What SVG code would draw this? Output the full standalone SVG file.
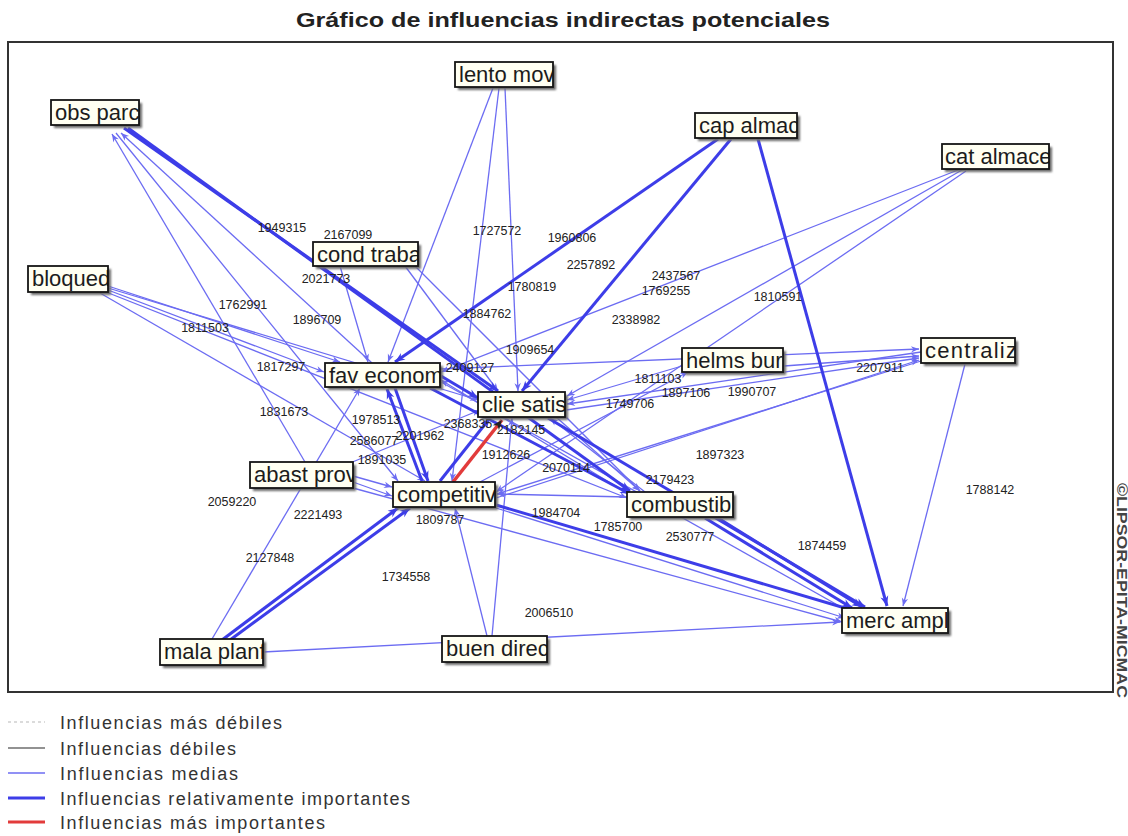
<svg xmlns="http://www.w3.org/2000/svg" width="1128" height="836" viewBox="0 0 1128 836">
<defs>
  <style>
    .title{font:bold 21px "Liberation Sans",Arial,sans-serif;fill:#222}
    .frame{fill:#fff;stroke:#333;stroke-width:2}
    .m{stroke:#6c6cf2;stroke-width:1.3;fill:none;marker-end:url(#am)}
    .s{stroke:#3d3de8;stroke-width:3;fill:none;marker-end:url(#as)}
    .r{stroke:#e23b3b;stroke-width:3.5;fill:none;marker-end:url(#ar)}
    .w{font:12.5px "Liberation Sans",Arial,sans-serif;fill:#222;text-anchor:middle}
    .sh{fill:#6a6a6a;filter:url(#blur)}
    .bx{fill:#fffff2}
    .bd{fill:none;stroke:#151515;stroke-width:1.8}
    .nl{font:22px "Liberation Sans",Arial,sans-serif;fill:#1c1c1c}
    .lg{font:18px "Liberation Sans",Arial,sans-serif;fill:#333}
    .cp{font:bold 14px "Liberation Sans",Arial,sans-serif;fill:#444}
  </style>
  <filter id="blur" x="-10%" y="-20%" width="120%" height="140%"><feGaussianBlur stdDeviation="1.2"/></filter>
  <marker id="am" viewBox="0 0 10 10" refX="10" refY="5" markerWidth="11" markerHeight="8" markerUnits="userSpaceOnUse" orient="auto"><path d="M0,1 L10,5 L0,9 L3,5 Z" fill="#6c6cf2"/></marker>
  <marker id="as" viewBox="0 0 10 10" refX="10" refY="5" markerWidth="13" markerHeight="10" markerUnits="userSpaceOnUse" orient="auto"><path d="M0,1 L10,5 L0,9 L3,5 Z" fill="#3d3de8"/></marker>
  <marker id="ar" viewBox="0 0 10 10" refX="10" refY="5" markerWidth="13" markerHeight="10" markerUnits="userSpaceOnUse" orient="auto"><path d="M0,1 L10,5 L0,9 L3,5 Z" fill="#222"/></marker>
</defs>

<rect width="1128" height="836" fill="#fff"/>
<text class="title" x="296" y="27" textLength="534" lengthAdjust="spacingAndGlyphs">Gráfico de influencias indirectas potenciales</text>
<rect class="frame" x="8" y="42" width="1105" height="650"/>
<text class="cp" transform="translate(1117,483) rotate(90)" textLength="215" lengthAdjust="spacingAndGlyphs">©LIPSOR-EPITA-MICMAC</text>

<!-- connectors -->
<g id="connectors">
  <!-- medium influences -->
  <line class="m" x1="305" y1="462" x2="112" y2="134"/>
  <line class="m" x1="116" y1="133" x2="398" y2="481"/>
  <line class="m" x1="372" y1="363" x2="121" y2="133"/>
  <line class="m" x1="493" y1="88" x2="388" y2="362"/>
  <line class="m" x1="499" y1="88" x2="452" y2="481"/>
  <line class="m" x1="505" y1="88" x2="518" y2="391"/>
  <line class="m" x1="962" y1="170" x2="567" y2="396"/>
  <line class="m" x1="958" y1="170" x2="441" y2="372"/>
  <line class="m" x1="966" y1="171" x2="496" y2="492"/>
  <line class="m" x1="965" y1="364" x2="903" y2="606"/>
  <line class="m" x1="441" y1="369" x2="919" y2="349"/>
  <line class="m" x1="784" y1="366" x2="919" y2="356"/>
  <line class="m" x1="496" y1="498" x2="919" y2="360"/>
  <line class="m" x1="566" y1="410" x2="919" y2="358"/>
  <line class="m" x1="682" y1="366" x2="567" y2="400"/>
  <line class="m" x1="921" y1="352" x2="567" y2="404"/>
  <line class="m" x1="921" y1="361" x2="497" y2="494"/>
  <line class="m" x1="108" y1="286" x2="340" y2="362"/>
  <line class="m" x1="108" y1="290" x2="324" y2="372"/>
  <line class="m" x1="108" y1="288" x2="478" y2="400"/>
  <line class="m" x1="100" y1="293" x2="425" y2="481"/>
  <line class="m" x1="106" y1="292" x2="627" y2="498"/>
  <line class="m" x1="340" y1="266" x2="368" y2="362"/>
  <line class="m" x1="405" y1="266" x2="498" y2="391"/>
  <line class="m" x1="415" y1="266" x2="640" y2="491"/>
  <line class="m" x1="353" y1="476" x2="392" y2="487"/>
  <line class="m" x1="353" y1="482" x2="392" y2="496"/>
  <line class="m" x1="350" y1="463" x2="480" y2="410"/>
  <line class="m" x1="212" y1="639" x2="360" y2="388"/>
  <line class="m" x1="263" y1="652" x2="840" y2="622"/>
  <line class="m" x1="487" y1="636" x2="455" y2="508"/>
  <line class="m" x1="492" y1="636" x2="512" y2="418"/>
  <line class="m" x1="627" y1="497" x2="497" y2="494"/>
  <line class="m" x1="645" y1="492" x2="550" y2="418"/>
  <line class="m" x1="627" y1="493" x2="441" y2="380"/>
  <line class="m" x1="441" y1="382" x2="850" y2="612"/>
  <line class="m" x1="353" y1="488" x2="842" y2="622"/>
  <line class="m" x1="556" y1="417" x2="640" y2="491"/>
  <line class="m" x1="480" y1="482" x2="688" y2="372"/>
  <line class="m" x1="496" y1="508" x2="845" y2="618"/>
  <!-- relatively important influences -->
  <line class="s" x1="124" y1="128" x2="498" y2="391"/>
  <line class="s" x1="128" y1="128" x2="630" y2="491"/>
  <line class="s" x1="718" y1="139" x2="395" y2="362"/>
  <line class="s" x1="731" y1="139" x2="522" y2="391"/>
  <line class="s" x1="758" y1="139" x2="887" y2="606"/>
  <line class="s" x1="395" y1="388" x2="428" y2="481"/>
  <line class="s" x1="422" y1="481" x2="387" y2="389"/>
  <line class="s" x1="441" y1="376" x2="478" y2="398"/>
  <line class="s" x1="430" y1="388" x2="630" y2="494"/>
  <line class="s" x1="496" y1="505" x2="855" y2="611"/>
  <line class="s" x1="548" y1="418" x2="865" y2="607"/>
  <line class="s" x1="718" y1="518" x2="862" y2="607"/>
  <line class="s" x1="705" y1="518" x2="852" y2="608"/>
  <line class="s" x1="222" y1="640" x2="398" y2="508"/>
  <line class="s" x1="230" y1="640" x2="410" y2="508"/>
  <line class="s" x1="440" y1="481" x2="490" y2="418"/>
  <!-- most important influence -->
  <line class="r" x1="453" y1="482" x2="502" y2="420"/>
</g>

<!-- influence values -->
<g id="values">
  <text class="w" x="282" y="232">1949315</text>
  <text class="w" x="348" y="239">2167099</text>
  <text class="w" x="326" y="283">2021773</text>
  <text class="w" x="497" y="235">1727572</text>
  <text class="w" x="572" y="242">1960806</text>
  <text class="w" x="591" y="269">2257892</text>
  <text class="w" x="532" y="291">1780819</text>
  <text class="w" x="676" y="280">2437567</text>
  <text class="w" x="666" y="295">1769255</text>
  <text class="w" x="778" y="301">1810591</text>
  <text class="w" x="243" y="309">1762991</text>
  <text class="w" x="317" y="324">1896709</text>
  <text class="w" x="205" y="332">1811503</text>
  <text class="w" x="487" y="318">1884762</text>
  <text class="w" x="636" y="324">2338982</text>
  <text class="w" x="530" y="354">1909654</text>
  <text class="w" x="470" y="372">2409127</text>
  <text class="w" x="281" y="371">1817297</text>
  <text class="w" x="284" y="416">1831673</text>
  <text class="w" x="376" y="424">1978513</text>
  <text class="w" x="374" y="445">2586077</text>
  <text class="w" x="420" y="440">2201962</text>
  <text class="w" x="468" y="428">2368335</text>
  <text class="w" x="521" y="434">2182145</text>
  <text class="w" x="506" y="459">1912626</text>
  <text class="w" x="382" y="464">1891035</text>
  <text class="w" x="566" y="472">2070114</text>
  <text class="w" x="658" y="383">1811103</text>
  <text class="w" x="686" y="397">1897106</text>
  <text class="w" x="630" y="408">1749706</text>
  <text class="w" x="752" y="396">1990707</text>
  <text class="w" x="880" y="372">2207911</text>
  <text class="w" x="720" y="459">1897323</text>
  <text class="w" x="670" y="484">2179423</text>
  <text class="w" x="990" y="494">1788142</text>
  <text class="w" x="232" y="506">2059220</text>
  <text class="w" x="318" y="519">2221493</text>
  <text class="w" x="440" y="524">1809787</text>
  <text class="w" x="556" y="517">1984704</text>
  <text class="w" x="618" y="531">1785700</text>
  <text class="w" x="690" y="541">2530777</text>
  <text class="w" x="822" y="550">1874459</text>
  <text class="w" x="270" y="562">2127848</text>
  <text class="w" x="406" y="581">1734558</text>
  <text class="w" x="549" y="617">2006510</text>
</g>

<!-- variables -->
<g id="n-obs-parc"><rect class="sh" x="54" y="103" width="88" height="25"/><svg x="51" y="100" width="88" height="25"><rect class="bx" width="88" height="25"/><text class="nl" x="4" y="20">obs parc</text></svg><rect class="bd" x="51" y="100" width="88" height="25"/></g>
<g id="n-lento-mov"><rect class="sh" x="458" y="65" width="98" height="25"/><svg x="455" y="62" width="98" height="25"><rect class="bx" width="98" height="25"/><text class="nl" x="4" y="20">lento mov</text></svg><rect class="bd" x="455" y="62" width="98" height="25"/></g>
<g id="n-cap-almac"><rect class="sh" x="698" y="116" width="102" height="25"/><svg x="695" y="113" width="102" height="25"><rect class="bx" width="102" height="25"/><text class="nl" x="4" y="20">cap almac</text></svg><rect class="bd" x="695" y="113" width="102" height="25"/></g>
<g id="n-cat-almace"><rect class="sh" x="945" y="147" width="107" height="25"/><svg x="942" y="144" width="107" height="25"><rect class="bx" width="107" height="25"/><text class="nl" x="3" y="20">cat almace</text></svg><rect class="bd" x="942" y="144" width="107" height="25"/></g>
<g id="n-cond-traba"><rect class="sh" x="316" y="245" width="105" height="24"/><svg x="313" y="242" width="105" height="24"><rect class="bx" width="105" height="24"/><text class="nl" x="4" y="20">cond traba</text></svg><rect class="bd" x="313" y="242" width="105" height="24"/></g>
<g id="n-bloqued"><rect class="sh" x="31" y="269" width="80" height="26"/><svg x="28" y="266" width="80" height="26"><rect class="bx" width="80" height="26"/><text class="nl" x="4" y="20">bloqued</text></svg><rect class="bd" x="28" y="266" width="80" height="26"/></g>
<g id="n-fav-econom"><rect class="sh" x="328" y="366" width="115" height="24"/><svg x="325" y="363" width="115" height="24"><rect class="bx" width="115" height="24"/><text class="nl" x="4" y="20">fav econom</text></svg><rect class="bd" x="325" y="363" width="115" height="24"/></g>
<g id="n-clie-satis"><rect class="sh" x="481" y="395" width="87" height="25"/><svg x="478" y="392" width="87" height="25"><rect class="bx" width="87" height="25"/><text class="nl" x="4" y="20">clie satis</text></svg><rect class="bd" x="478" y="392" width="87" height="25"/></g>
<g id="n-helms-burr"><rect class="sh" x="685" y="351" width="101" height="24"/><svg x="682" y="348" width="101" height="24"><rect class="bx" width="101" height="24"/><text class="nl" x="4" y="20">helms burr</text></svg><rect class="bd" x="682" y="348" width="101" height="24"/></g>
<g id="n-centraliz"><rect class="sh" x="924" y="341" width="94" height="25"/><svg x="921" y="338" width="94" height="25"><rect class="bx" width="94" height="25"/><text class="nl" x="4" y="20" textLength="92" lengthAdjust="spacing">centraliz</text></svg><rect class="bd" x="921" y="338" width="94" height="25"/></g>
<g id="n-abast-prov"><rect class="sh" x="253" y="465" width="103" height="26"/><svg x="250" y="462" width="103" height="26"><rect class="bx" width="103" height="26"/><text class="nl" x="4" y="20">abast prov</text></svg><rect class="bd" x="250" y="462" width="103" height="26"/></g>
<g id="n-competitiv"><rect class="sh" x="396" y="485" width="102" height="25"/><svg x="393" y="482" width="102" height="25"><rect class="bx" width="102" height="25"/><text class="nl" x="4" y="20">competitiv</text></svg><rect class="bd" x="393" y="482" width="102" height="25"/></g>
<g id="n-combustib"><rect class="sh" x="630" y="495" width="106" height="25"/><svg x="627" y="492" width="106" height="25"><rect class="bx" width="106" height="25"/><text class="nl" x="4" y="20">combustib</text></svg><rect class="bd" x="627" y="492" width="106" height="25"/></g>
<g id="n-merc-ampl"><rect class="sh" x="845" y="611" width="106" height="25"/><svg x="842" y="608" width="106" height="25"><rect class="bx" width="106" height="25"/><text class="nl" x="4" y="20">merc ampl</text></svg><rect class="bd" x="842" y="608" width="106" height="25"/></g>
<g id="n-mala-planf"><rect class="sh" x="163" y="642" width="103" height="26"/><svg x="160" y="639" width="103" height="26"><rect class="bx" width="103" height="26"/><text class="nl" x="4" y="20">mala planf</text></svg><rect class="bd" x="160" y="639" width="103" height="26"/></g>
<g id="n-buen-direc"><rect class="sh" x="445" y="639" width="105" height="26"/><svg x="442" y="636" width="105" height="26"><rect class="bx" width="105" height="26"/><text class="nl" x="4" y="20">buen direc</text></svg><rect class="bd" x="442" y="636" width="105" height="26"/></g>

<!-- legend -->
<g id="legend">
  <line x1="8" y1="722" x2="45" y2="722" stroke="#b8b8b8" stroke-width="1.2" stroke-dasharray="3,3"/>
  <line x1="8" y1="748" x2="45" y2="748" stroke="#6e6e6e" stroke-width="1.5"/>
  <line x1="8" y1="773" x2="45" y2="773" stroke="#6c6cf2" stroke-width="1.5"/>
  <line x1="8" y1="798" x2="45" y2="798" stroke="#3d3de8" stroke-width="3"/>
  <line x1="8" y1="822" x2="45" y2="822" stroke="#e23b3b" stroke-width="3"/>
  <text class="lg" x="60" y="729" textLength="222">Influencias más débiles</text>
  <text class="lg" x="60" y="755" textLength="176">Influencias débiles</text>
  <text class="lg" x="60" y="780" textLength="178">Influencias medias</text>
  <text class="lg" x="60" y="805" textLength="350">Influencias relativamente importantes</text>
  <text class="lg" x="60" y="829" textLength="265">Influencias más importantes</text>
</g>
</svg>
